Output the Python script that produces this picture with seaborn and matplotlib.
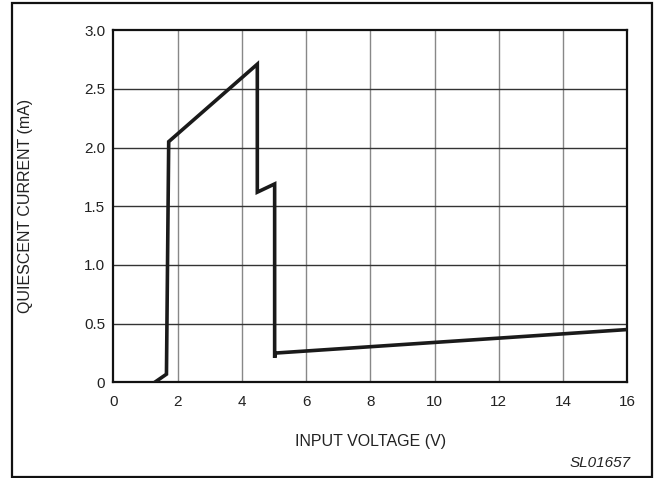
import matplotlib
matplotlib.use("Agg")
import matplotlib.pyplot as plt
import seaborn as sns
import pandas as pd
from matplotlib.patches import Rectangle

voltage = [1.28, 1.65, 1.72, 4.48, 4.48, 5.02, 5.02, 5.05, 16.0]
current = [0.0, 0.07, 2.05, 2.71, 1.62, 1.69, 0.21, 0.25, 0.45]
x_ticks = [0, 2, 4, 6, 8, 10, 12, 14, 16]
x_labels = ["0", "2", "4", "6", "8", "10", "12", "14", "16"]
y_ticks = [0, 0.5, 1.0, 1.5, 2.0, 2.5, 3.0]
y_labels = ["0", "0.5", "1.0", "1.5", "2.0", "2.5", "3.0"]

sns.set_theme(style="white")
plt.rcParams['font.family'] = ['Liberation Sans', 'DejaVu Sans']

fig = plt.figure(figsize=(6.56, 4.78), dpi=100)
ax = fig.add_axes([0.173, 0.2, 0.783, 0.737])

df = pd.DataFrame({"v": voltage, "i": current})
sns.lineplot(data=df, x="v", y="i", sort=False, estimator=None, ax=ax,
             color="#1a1a1a", linewidth=2.6, solid_joinstyle="miter", zorder=5)

ax.set_xlim(0, 16)
ax.set_ylim(0, 3.0)
ax.set_xticks(x_ticks)
ax.set_xticklabels(x_labels)
ax.set_yticks(y_ticks)
ax.set_yticklabels(y_labels)
ax.tick_params(axis="x", length=0, labelsize=11, colors="#222222", pad=9)
ax.tick_params(axis="y", length=0, labelsize=11, colors="#222222", pad=6)
for v in x_ticks[1:-1]:
    ax.axvline(v, color="#888888", linewidth=1.0, zorder=1)
for v in y_ticks[1:-1]:
    ax.axhline(v, color="#333333", linewidth=1.0, zorder=1)
for s in ax.spines.values():
    s.set_color("#111111")
    s.set_linewidth(1.6)
ax.set_xlabel("INPUT VOLTAGE (V)", fontsize=11.5, color="#222222", labelpad=18)
ax.set_ylabel("QUIESCENT CURRENT (mA)", fontsize=11.5, color="#222222", labelpad=37)

fig.text(0.962, 0.023, "SL01657", fontsize=11, style="italic", ha="right",
         va="baseline", color="#222222")
fig.patches.append(Rectangle((0.0185, 0.003), 0.9755, 0.99, transform=fig.transFigure,
                             fill=False, edgecolor="#111111", linewidth=1.6))

fig.savefig("out.png", dpi=100)
